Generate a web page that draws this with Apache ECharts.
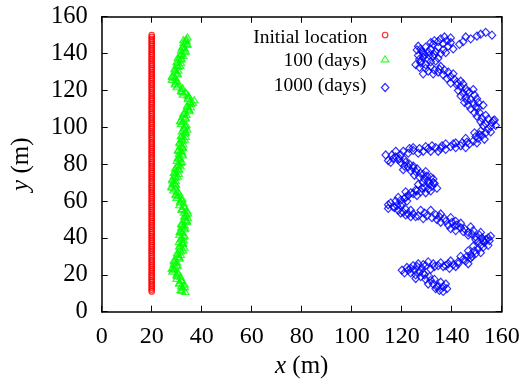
<!DOCTYPE html>
<html>
<head>
<meta charset="utf-8">
<script src="https://cdn.jsdelivr.net/npm/echarts@6/dist/echarts.min.js"></script>
<style>
html,body{margin:0;padding:0;background:#fff;}
#chart{width:526px;height:379px;}
</style>
</head>
<body>
<div id="chart"></div>
<script>
// ---- data ----
const axisTicks = [0, 20, 40, 60, 80, 100, 120, 140, 160];
const seriesNames = ['Initial location', '100 (days)', '1000 (days)'];

// Initial location: column of particles at x = 20 m
const initialX = 20;
const initialY = [11,12,13,14,15,16,17,18,19,20,21,22,23,24,25,26,27,28,29,30,
  31,32,33,34,35,36,37,38,39,40,41,42,43,44,45,46,47,48,49,50,
  51,52,53,54,55,56,57,58,59,60,61,62,63,64,65,66,67,68,69,70,
  71,72,73,74,75,76,77,78,79,80,81,82,83,84,85,86,87,88,89,90,
  91,92,93,94,95,96,97,98,99,100,101,102,103,104,105,106,107,108,109,110,
  111,112,113,114,115,116,117,118,119,120,121,122,123,124,125,126,127,128,129,130,
  131,132,133,134,135,136,137,138,139,140,141,142,143,144,145,146,147,148,149,150];

// after 100 days [x, y]
const days100 = [
  [33.4,11],[31.6,12],[32.5,13],[31.8,14],[33.1,15],[31.2,16],[31.9,17],[30.0,18],[31.5,19],[30.0,20],
  [30.4,21],[28.3,22],[28.9,23],[28.6,24],[30.2,25],[28.9,26],[30.1,27],[28.9,28],[31.1,29],[30.4,30],
  [31.6,31],[30.2,32],[31.6,33],[31.3,34],[33.0,35],[31.4,36],[32.4,37],[30.9,38],[32.8,39],[31.8,40],
  [32.7,41],[31.1,42],[32.2,43],[31.6,44],[33.2,45],[31.9,46],[33.1,47],[31.9,48],[34.0,49],[33.3,50],
  [34.4,51],[33.1,52],[33.9,53],[33.0,54],[34.1,55],[32.2,56],[32.9,57],[31.1,58],[32.7,59],[31.4,60],
  [32.0,61],[30.0,62],[30.7,63],[29.7,64],[30.7,65],[28.7,66],[29.5,67],[27.9,68],[29.6,69],[28.5,70],
  [29.6,71],[28.2,72],[29.6,73],[29.2,74],[30.8,75],[29.4,76],[30.7,77],[29.4,78],[31.5,79],[30.6,80],
  [31.6,81],[30.1,82],[31.4,83],[30.9,84],[32.4,85],[30.9,86],[32.0,87],[30.6,88],[32.5,89],[31.6,90],
  [32.6,91],[31.1,92],[32.4,93],[32.0,94],[33.6,95],[32.2,96],[33.4,97],[32.1,98],[34.2,99],[32.9,100],
  [33.5,101],[31.7,102],[32.5,103],[31.6,104],[33.5,105],[32.4,106],[33.9,107],[32.9,108],[35.1,109],[34.4,110],
  [35.6,111],[34.2,112],[35.6,113],[35.3,114],[37.0,115],[34.6,116],[34.8,117],[32.5,118],[33.6,119],[31.8,120],
  [32.1,121],[30.0,122],[30.5,123],[29.4,124],[30.2,125],[28.1,126],[29.4,127],[28.2,128],[30.3,129],[29.5,130],
  [30.6,131],[29.2,132],[30.5,133],[30.1,134],[31.7,135],[30.4,136],[31.7,137],[30.5,138],[32.6,139],[31.9,140],
  [33.1,141],[31.8,142],[33.1,143],[32.6,144],[34.2,145],[32.8,146],[33.9,147],[33.8,148],[34.3,149],
  [32.0,11.5],[33.2,13.5],[31.0,15.5],[31.8,17.5],[30.2,19.5],[30.5,21.5],[28.1,23.5],[30.2,25.5],[29.0,27.5],[31.0,29.5],
  [30.4,31.5],[32.5,33.5],[31.0,35.5],[32.5,37.5],[31.7,39.5],[33.1,41.5],[31.3,43.5],[33.2,45.5],[32.0,47.5],[34.0,49.5],
  [33.3,51.5],[34.5,53.5],[32.0,55.5],[32.9,57.5],[31.5,59.5],[32.2,61.5],[29.6,63.5],[30.3,65.5],[28.2,67.5],[29.4,69.5],
  [28.4,71.5],[30.4,73.5],[28.9,75.5],[30.9,77.5],[30.4,79.5],[32.0,81.5],[30.5,83.5],[32.2,85.5],[30.7,87.5],[32.4,89.5],
  [31.3,91.5],[33.2,93.5],[31.7,95.5],[33.6,97.5],[33.0,99.5],[33.8,101.5],[31.4,103.5],[33.5,105.5],[32.8,107.5],[35.0,109.5],
  [34.4,111.5],[36.4,113.5],[34.6,115.5],[34.5,117.5],[32.1,119.5],[32.3,121.5],[29.4,123.5],[29.8,125.5],[28.2,127.5],[30.2,129.5],
  [29.4,131.5],[31.3,133.5],[29.9,135.5],[31.9,137.5],[31.6,139.5],[33.6,141.5],[32.2,143.5],[34.1,145.5],[32.7,147.5]
];

// after 1000 days [x, y]
const days1000 = [
  [135.1,11.5],[133.6,12.5],[136.6,13.5],[134.6,14],[132.6,15],[135.6,16],[131.6,17],[129.6,17.5],[131.1,19],[127.6,19],
  [125.6,20],[127.1,21.5],[123.6,21],[121.1,21],[122.6,22.5],[120.1,22.5],[122.1,24],[124.6,25],[123.6,23.5],[126.6,26],
  [126.1,24.5],[128.6,25.5],[130.6,27],[129.6,25],[132.6,26],[134.6,25],[136.6,24.5],[135.6,26.5],[138.6,26],[140.6,25.5],
  [139.6,27.5],[142.6,27],[144.6,28.5],[143.6,30],[146.1,30],[147.6,31],[146.6,33],[149.1,33],[150.6,34],[148.6,35.5],
  [151.6,36],[153.1,37.5],[150.6,38],[153.6,39],[155.1,38.5],[152.1,40],[149.6,40.5],[151.1,41.5],[148.1,42],[146.6,43],
  [148.6,44],[144.6,43.5],[143.6,45.5],[141.6,44],[139.6,45],[141.1,46.5],[138.6,47],[137.6,49],[135.6,48.5],[134.1,50],
  [135.1,51.5],[132.1,51],[130.1,52],[128.6,50.5],[126.6,52],[124.6,53],[125.6,51.5],[122.6,53],[120.6,54],[121.6,55.5],
  [118.6,55],[116.6,57],[118.1,57.5],[115.6,59],[114.6,58],[117.6,60],[119.6,60.5],[118.6,62],[121.1,61.5],[122.6,63],
  [121.6,65],[124.6,64],[126.1,63],[127.6,65],[129.6,64.5],[130.6,66.5],[129.1,67.5],[132.1,68],[134.1,67],[132.6,70],
  [130.6,71],[128.6,70],[130.1,73.5],[131.6,73],[127.1,73],[125.1,74],[125.6,76],[123.6,76.5],[122.6,78.5],[121.1,79],
  [119.6,81],[121.6,81],[118.6,82.5],[116.6,83],[114.6,82],[116.1,85],[113.6,85],[117.6,84],[119.6,85],[120.6,87],
  [122.6,86],[124.6,87.5],[126.6,86],[128.6,87],[130.6,88.5],[131.6,87],[133.6,89],[135.6,88.5],[137.6,88],[139.6,89.5],
  [141.6,89],[143.6,90],[145.6,89],[147.1,91],[148.6,92.5],[150.1,91.5],[150.6,94],[152.1,95.5],[153.1,93.5],[153.6,97],
  [151.6,98],[154.6,99],[155.6,100.5],[157.6,101],[156.1,102.5],[153.6,102],[157.1,104],[154.6,104.5],[152.1,105],[153.6,106.5],
  [151.1,108],[149.1,108],[147.6,110],[149.6,111],[146.6,112],[148.6,113],[147.6,115],[150.1,115.5],[145.6,116],[143.6,117],
  [144.6,118.5],[147.1,119],[148.6,120.5],[145.6,121],[143.6,122],[142.1,123],[143.6,125],[141.1,126],[139.6,127.5],[138.1,126.5],
  [136.6,128.5],[138.6,130],[134.6,130],[132.6,129],[130.6,130.5],[128.6,129],[129.6,132],[127.1,132.5],[125.6,134],[127.6,135],
  [129.6,134],[131.6,135.5],[133.6,136],[134.6,137.5],[132.6,138.5],[130.6,137],[128.6,138],[126.6,139],[128.6,140.5],[130.6,141],
  [127.6,142.5],[129.6,143.5],[131.6,142.5],[133.6,141],[135.6,140],[137.6,140.5],[136.6,142],[134.6,143.5],[132.6,145],[134.6,146.5],
  [136.6,145.5],[138.1,147],[139.6,148.5],[139.6,146],[138.6,144],[140.6,142.5],[143.1,145],[144.6,146.5],[145.6,149],[147.6,148],
  [150.1,149.5],[151.6,150.5],[153.6,151.5],[156.1,150],[126.6,144],[127.6,136],[131.6,133],[135.6,133],[139.6,124],[142.6,120],
  [145.1,113.5],[150.6,110.5],[152.6,101],[149.1,97],[145.6,94],[141.6,91.5],[137.6,91],[134.6,87],[129.6,89.5],[124.6,89],
  [117.6,87],[115.6,81],[120.6,77],[124.6,79],[129.6,76],[132.6,72],[126.6,69],[125.6,66],[121.6,62],[114.6,56],
  [119.6,57.5],[123.6,55],[127.6,55],[131.6,55],[135.6,53],[139.6,51],[141.6,49],[143.6,48],[147.6,46],[151.6,43],
  [155.6,41],[154.6,36],[151.6,32],[147.6,29],[146.6,26],[142.6,26],[137.6,25],[131.6,23],[128.6,21],[125.6,18],
  [130.6,15],[136.6,11],[137.6,15],
  [127.1,137],[129.1,139.5],[131.1,139],[133.1,139.5],[128.1,141],[126.1,142],[131.6,146],[133.1,147],[135.6,148],[137.1,149],
  [119.1,83],[121.1,82.5],[123.1,80],[124.6,78],[126.1,77.5],[127.6,75],[128.6,74.5],[129.1,72],[131.1,69.5],[133.1,69.5],
  [131.6,65.5],[128.1,67],[126.1,65.5],[123.6,64.5],[122.1,60],[120.1,58.5],[117.1,56.5],[119.6,53.5],[121.6,52.5],[123.6,51.5],
  [129.1,53.5],[133.6,52.5],[137.1,50.5],[140.1,48.5],[142.1,47],[145.1,45],[146.6,41.5],[149.6,39],[152.6,38.5],[154.6,40],
  [152.6,35],[149.6,31.5],[148.1,30],[145.6,27.5],[141.6,24.5],[139.1,23.5],[133.1,24.5],[128.1,23.5],[125.1,22.5],[129.1,20],
  [133.1,17.5],[134.1,13.5],[138.1,12.5],
  [146.1,92],[149.6,95],[151.1,96],[155.6,97.5],[156.6,103.5],[151.6,103],[150.1,106],[152.6,112],[150.6,113.5],[146.1,114.5],
  [149.1,117.5],[146.1,119.5],[144.6,123.5],[142.1,124.5],[140.6,129],[137.1,131],[135.1,131.5],[133.1,131],
  [123.1,88.5],[127.1,88.5],[132.1,90],[136.1,90],[140.6,91],[144.1,91.5]
];

// ---- chart ----
const FONT = "'Liberation Serif','Times New Roman','DejaVu Serif',serif";
const colors = ['#ff0000', '#00ff00', '#0000ff'];
const chart = echarts.init(document.getElementById('chart'), null, {renderer: 'canvas'});

const axisMin = axisTicks[0], axisMax = axisTicks[axisTicks.length - 1], axisStep = axisTicks[1] - axisTicks[0];

function baseAxis(extra) {
  return Object.assign({
    type: 'value', min: axisMin, max: axisMax, interval: axisStep,
    splitLine: {show: false},
    axisLine: {show: true, onZero: false, lineStyle: {color: '#000', width: 1.5}},
    axisTick: {show: true, inside: true, length: 6, lineStyle: {color: '#000', width: 1}},
    axisLabel: {show: false}
  }, extra);
}

function legendFor(i, opts) {
  return {
    data: [seriesNames[i]],
    orient: 'vertical', align: 'right',
    right: opts.right, top: opts.top, padding: 0,
    itemWidth: opts.w, itemHeight: opts.h, symbolKeepAspect: false,
    itemStyle: {color: 'rgba(0,0,0,0)', borderColor: colors[i], borderWidth: 1.2},
    formatter: function (name) { return '{a|' + name + '}'; },
    textStyle: {
      rich: {a: {fontFamily: FONT, fontSize: 19.5, color: '#000', lineHeight: 20, padding: opts.pad}}
    },
    selectedMode: false
  };
}

const option = {
  animation: false,
  backgroundColor: '#fff',
  grid: {left: 101.7, right: 24.3, top: 16.7, bottom: 67.3, containLabel: false, outerBoundsMode: 'none'},
  xAxis: [
    baseAxis({
      position: 'bottom',
      axisLabel: {show: true, fontFamily: FONT, fontSize: 24, color: '#000', margin: 13},
      name: '{i|x} (m)', nameLocation: 'middle', nameGap: 40,
      nameTextStyle: {fontFamily: FONT, fontSize: 25, color: '#000',
        rich: {i: {fontFamily: FONT, fontSize: 25, fontStyle: 'italic', color: '#000'}}}
    }),
    baseAxis({position: 'top'})
  ],
  yAxis: [
    baseAxis({
      position: 'left',
      axisLabel: {show: true, fontFamily: FONT, fontSize: 24.5, color: '#000', margin: 14},
      name: '{i|y} (m)', nameLocation: 'middle', nameGap: 68,
      nameTextStyle: {fontFamily: FONT, fontSize: 25, color: '#000',
        rich: {i: {fontFamily: FONT, fontSize: 25, fontStyle: 'italic', color: '#000'}}}
    }),
    baseAxis({position: 'right'})
  ],
  legend: [
    legendFor(0, {right: 137.5, top: 22, w: 5.5, h: 5.5, pad: [6, 10, 0, 0]}),
    legendFor(1, {right: 136.5, top: 46.8, w: 7.5, h: 6, pad: [4, 10, 0, 0]}),
    legendFor(2, {right: 136.5, top: 75.5, w: 7.5, h: 8, pad: [0, 10, 4, 0]})
  ],
  series: [
    {
      name: seriesNames[0], type: 'scatter', xAxisIndex: 0, yAxisIndex: 0,
      symbol: 'circle', symbolSize: 5.5,
      itemStyle: {color: 'rgba(0,0,0,0)', borderColor: colors[0], borderWidth: 1.2},
      data: initialY.map(function (y) { return [initialX, y]; })
    },
    {
      name: seriesNames[1], type: 'scatter', xAxisIndex: 0, yAxisIndex: 0,
      symbol: 'triangle', symbolSize: [7.5, 6],
      itemStyle: {color: 'rgba(0,0,0,0)', borderColor: colors[1], borderWidth: 1.2},
      data: days100
    },
    {
      name: seriesNames[2], type: 'scatter', xAxisIndex: 0, yAxisIndex: 0,
      symbol: 'diamond', symbolSize: [7.5, 8],
      itemStyle: {color: 'rgba(0,0,0,0)', borderColor: colors[2], borderWidth: 1.2},
      data: days1000
    }
  ]
};
chart.setOption(option);
</script>
</body>
</html>
